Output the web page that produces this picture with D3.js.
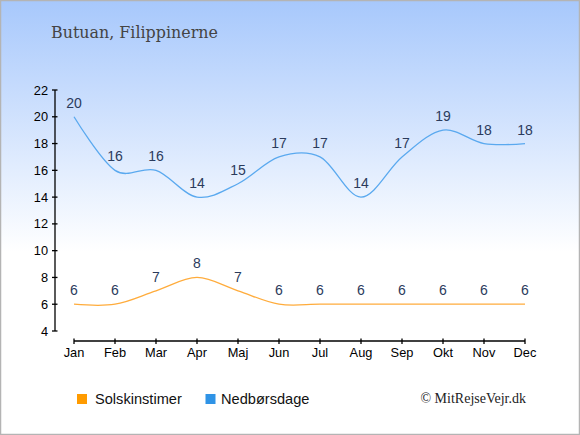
<!DOCTYPE html>
<html><head><meta charset="utf-8">
<script src="https://cdn.jsdelivr.net/npm/d3@7"></script>
<style>html,body{margin:0;padding:0;background:#fff;}svg{display:block;}</style>
</head><body>
<script>
const months = ["Jan","Feb","Mar","Apr","Maj","Jun","Jul","Aug","Sep","Okt","Nov","Dec"];
const sunHours = [6,6,7,8,7,6,6,6,6,6,6,6];
const rainDays = [20,16,16,14,15,17,17,14,17,19,18,18];
const yTicks = [4,6,8,10,12,14,16,18,20,22];
const title = "Butuan, Filippinerne";
const seriesNames = ["Solskinstimer","Nedbørsdage"];
const credit = "© MitRejseVejr.dk";

const W = 580, H = 435;
const svg = d3.select("body").append("svg").attr("width", W).attr("height", H);
const defs = svg.append("defs");
const g = defs.append("linearGradient").attr("id","bg").attr("x1",0).attr("y1",0).attr("x2",0).attr("y2",1);
g.append("stop").attr("offset","0%").attr("stop-color","#a7c8fc");
g.append("stop").attr("offset","58%").attr("stop-color","#ffffff");
g.append("stop").attr("offset","100%").attr("stop-color","#ffffff");
svg.append("rect").attr("x",0.5).attr("y",0.5).attr("width",W-1).attr("height",H-1)
  .attr("fill","url(#bg)").attr("stroke","#b4b4b4").attr("stroke-width",1.5);

svg.append("text").attr("x",51).attr("y",38).text(title)
  .attr("font-family","DejaVu Serif, serif").attr("font-size",15.9).attr("fill","#444");

const x = d3.scalePoint().domain(months).range([74,525]);
const y = d3.scaleLinear().domain([4,22]).range([331,90]);
const axisX = 55, axisY = 341;

// y axis
const ya = svg.append("g");
ya.append("line").attr("x1",axisX).attr("x2",axisX).attr("y1",y(22)).attr("y2",y(4)).attr("stroke","#000").attr("stroke-width",1.3);
yTicks.forEach(t=>{
  ya.append("line").attr("x1",axisX-3).attr("x2",axisX+2.5).attr("y1",y(t)).attr("y2",y(t)).attr("stroke","#000").attr("stroke-width",1.3);
  ya.append("text").attr("x",axisX-7).attr("y",y(t)+4.5).attr("text-anchor","end").text(t)
    .attr("font-family","Liberation Sans, Arial, sans-serif").attr("font-size",12.8).attr("fill","#000");
});
// x axis
const xa = svg.append("g");
xa.append("line").attr("x1",x("Jan")).attr("x2",x("Dec")).attr("y1",axisY).attr("y2",axisY).attr("stroke","#000").attr("stroke-width",1.3);
months.forEach(m=>{
  xa.append("line").attr("x1",x(m)).attr("x2",x(m)).attr("y1",axisY-2.5).attr("y2",axisY+3).attr("stroke","#000").attr("stroke-width",1.3);
  xa.append("text").attr("x",x(m)).attr("y",357).attr("text-anchor","middle").text(m)
    .attr("font-family","Liberation Sans, Arial, sans-serif").attr("font-size",12.8).attr("fill","#000");
});

const line = d3.line().x((d,i)=>x(months[i])).y(d=>y(d)).curve(d3.curveCatmullRom.alpha(0));
function series(vals, color){
  svg.append("path").attr("d", line(vals)).attr("fill","none").attr("stroke",color).attr("stroke-width",1.3);
  vals.forEach((v,i)=>{
    svg.append("text").attr("x",x(months[i])).attr("y",y(v)-9).attr("text-anchor","middle").text(v)
      .attr("font-family","Liberation Sans, Arial, sans-serif").attr("font-size",14).attr("fill","#2b3b5c");
  });
}
series(rainDays, "#5aa9ef");
series(sunHours, "#ffac3c");

// legend
const leg = [{n:seriesNames[0], c:"#ff9b00", x:77, tx:95},{n:seriesNames[1], c:"#2f93e6", x:205.5, tx:221}];
leg.forEach(l=>{
  svg.append("rect").attr("x",l.x).attr("y",394).attr("width",10).attr("height",10).attr("fill",l.c);
  svg.append("text").attr("x",l.tx).attr("y",404).text(l.n)
    .attr("font-family","Liberation Sans, Arial, sans-serif").attr("font-size",14.6).attr("fill","#111");
});
svg.append("text").attr("x",526).attr("y",403).attr("text-anchor","end").text(credit)
  .attr("font-family","Liberation Serif, serif").attr("font-size",14).attr("fill","#222");
</script>
</body></html>
